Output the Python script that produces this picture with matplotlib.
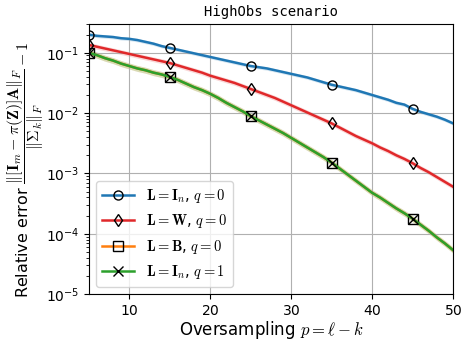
import numpy as np
import matplotlib
matplotlib.use("Agg")
import matplotlib.pyplot as plt

plt.rcParams["mathtext.fontset"] = "cm"
plt.rcParams["axes.formatter.use_mathtext"] = True

# oversampling values
p = np.arange(5, 51)

# log10 of the relative error
log_in_q0 = [-0.70, -0.72, -0.73, -0.74, -0.76, -0.77, -0.79, -0.82, -0.85, -0.89,
             -0.92, -0.95, -0.98, -1.01, -1.04, -1.07, -1.10, -1.13, -1.16, -1.19,
             -1.22, -1.24, -1.26, -1.29, -1.32, -1.35, -1.38, -1.41, -1.45, -1.49,
             -1.53, -1.56, -1.59, -1.62, -1.66, -1.70, -1.74, -1.78, -1.83, -1.86,
             -1.93, -1.98, -2.02, -2.06, -2.11, -2.17]
log_w_q0 = [-0.87, -0.90, -0.93, -0.96, -0.99, -1.02, -1.05, -1.08, -1.11, -1.14,
            -1.17, -1.21, -1.25, -1.29, -1.33, -1.38, -1.42, -1.46, -1.50, -1.55,
            -1.60, -1.65, -1.70, -1.75, -1.81, -1.87, -1.93, -1.99, -2.05, -2.11,
            -2.17, -2.24, -2.31, -2.38, -2.44, -2.50, -2.57, -2.63, -2.70, -2.76,
            -2.83, -2.91, -2.98, -3.06, -3.14, -3.22]
log_b_q0 = [-1.00, -1.04, -1.09, -1.13, -1.18, -1.22, -1.26, -1.29, -1.33, -1.36,
            -1.40, -1.45, -1.51, -1.57, -1.62, -1.68, -1.75, -1.83, -1.90, -1.97,
            -2.05, -2.12, -2.19, -2.26, -2.33, -2.41, -2.49, -2.57, -2.65, -2.73,
            -2.82, -2.92, -3.02, -3.12, -3.22, -3.32, -3.40, -3.49, -3.58, -3.66,
            -3.75, -3.85, -3.95, -4.06, -4.16, -4.27]
log_in_q1 = list(log_b_q0)

# half-width of the shaded spread, in log10 units
spread = [0.03, 0.04, 0.05, 0.05]

labels = [r"$\mathbf{L} = \mathbf{I}_n$, $q = 0$",
          r"$\mathbf{L} = \mathbf{W}$, $q = 0$",
          r"$\mathbf{L} = \mathbf{B}$, $q = 0$",
          r"$\mathbf{L} = \mathbf{I}_n$, $q = 1$"]
colors = ["#1f77b4", "#e0282a", "#ff7f0e", "#2ca02c"]
markers = ["o", "d", "s", "x"]
series = [log_in_q0, log_w_q0, log_b_q0, log_in_q1]

fig = plt.figure(figsize=(4.67, 3.42), dpi=100)
ax = fig.add_axes([0.19, 0.14, 0.78, 0.79])

for vals, sp, lab, col, mk in zip(series, spread, labels, colors, markers):
    v = np.array(vals)
    ax.fill_between(p, 10 ** (v - sp), 10 ** (v + sp), color=col, alpha=0.18, lw=0)
    ax.plot(p, 10 ** v, color=col, lw=1.8, label=lab, marker=mk, markevery=10,
            markersize=6.5, markerfacecolor="none", markeredgecolor="black",
            markeredgewidth=1.0)

ax.set_yscale("log")
ax.set_xlim(5, 50)
ax.set_ylim(1e-5, 0.3)
ax.grid(True, which="major", color="#b0b0b0", lw=0.8)
ax.tick_params(labelsize=10)

ax.set_title("HighObs scenario", family="DejaVu Sans Mono", fontsize=10)
ax.set_xlabel(r"Oversampling $p = \ell - k$", fontsize=12, labelpad=1)
ax.set_ylabel(r"Relative error $\dfrac{\|[\mathbf{I}_m - \pi(\mathbf{Z})]\mathbf{A}\|_F}"
              r"{\|\boldsymbol{\Sigma}_k\|_F} - 1$", fontsize=11.5)
ax.yaxis.set_label_coords(-0.118, 0.46)

ax.legend(loc="lower left", fontsize=10.5, handlelength=2.2)

fig.savefig("out.png", dpi=100)
